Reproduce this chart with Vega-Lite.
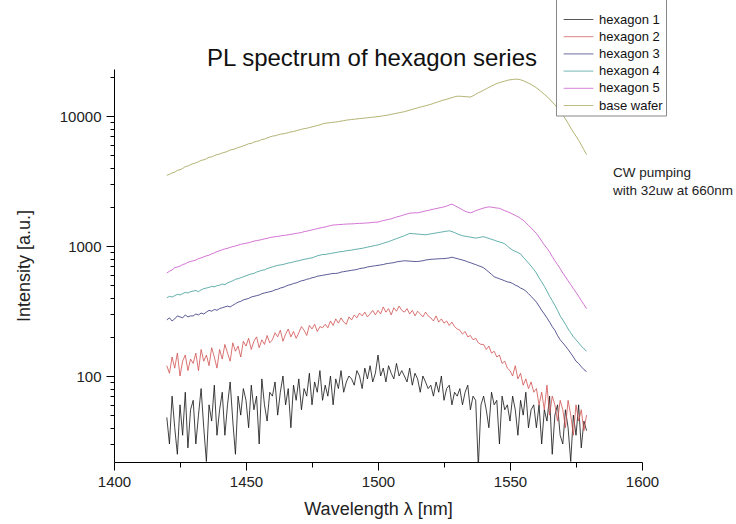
{
"$schema": "https://vega.github.io/schema/vega-lite/v6.json",
"width": 528, "height": 393,
"autosize": {"type": "none"},
"padding": {"left": 114, "top": 69, "right": 94, "bottom": 62},
"background": "white",
"config": {"view": {"stroke": null}, "font": "Liberation Sans"},
"title": {"text": "PL spectrum of hexagon series", "fontSize": 24, "fontWeight": "normal", "font": "Liberation Sans", "color": "#111", "anchor": "middle", "frame": "group", "dx": -6, "offset": -77},
"layer": [
{
"data": {"values": [
{"x":1420,"h1":48,"h2":120,"h3":270,"h4":400,"h5":620,"bw":3500},
{"x":1421,"h1":30,"h2":105,"h3":280,"h4":410,"h5":640,"bw":3560},
{"x":1422,"h1":70,"h2":140,"h3":265,"h4":405,"h5":655,"bw":3650},
{"x":1423,"h1":40,"h2":115,"h3":275,"h4":415,"h5":680,"bw":3700},
{"x":1424,"h1":25,"h2":150,"h3":290,"h4":425,"h5":690,"bw":3820},
{"x":1425,"h1":60,"h2":100,"h3":285,"h4":420,"h5":700,"bw":3860},
{"x":1426,"h1":35,"h2":130,"h3":280,"h4":430,"h5":720,"bw":3950},
{"x":1427,"h1":75,"h2":145,"h3":295,"h4":440,"h5":730,"bw":4080},
{"x":1428,"h1":28,"h2":110,"h3":285,"h4":435,"h5":750,"bw":4120},
{"x":1429,"h1":55,"h2":135,"h3":290,"h4":445,"h5":760,"bw":4230},
{"x":1430,"h1":65,"h2":125,"h3":290,"h4":450,"h5":770,"bw":4300},
{"x":1431,"h1":30,"h2":150,"h3":300,"h4":455,"h5":780,"bw":4360},
{"x":1432,"h1":50,"h2":110,"h3":295,"h4":445,"h5":800,"bw":4450},
{"x":1433,"h1":80,"h2":160,"h3":305,"h4":460,"h5":810,"bw":4560},
{"x":1434,"h1":40,"h2":130,"h3":300,"h4":470,"h5":825,"bw":4600},
{"x":1435,"h1":22,"h2":145,"h3":310,"h4":475,"h5":840,"bw":4700},
{"x":1436,"h1":60,"h2":120,"h3":320,"h4":480,"h5":850,"bw":4820},
{"x":1437,"h1":45,"h2":165,"h3":315,"h4":490,"h5":870,"bw":4850},
{"x":1438,"h1":85,"h2":140,"h3":325,"h4":485,"h5":885,"bw":4960},
{"x":1439,"h1":35,"h2":115,"h3":320,"h4":495,"h5":905,"bw":5050},
{"x":1440,"h1":55,"h2":160,"h3":330,"h4":500,"h5":920,"bw":5100},
{"x":1441,"h1":75,"h2":135,"h3":335,"h4":510,"h5":935,"bw":5200},
{"x":1442,"h1":35,"h2":175,"h3":340,"h4":505,"h5":950,"bw":5260},
{"x":1443,"h1":60,"h2":150,"h3":345,"h4":520,"h5":960,"bw":5350},
{"x":1444,"h1":90,"h2":130,"h3":340,"h4":530,"h5":975,"bw":5480},
{"x":1445,"h1":45,"h2":180,"h3":350,"h4":540,"h5":990,"bw":5530},
{"x":1446,"h1":25,"h2":155,"h3":360,"h4":555,"h5":1000,"bw":5600},
{"x":1447,"h1":70,"h2":170,"h3":370,"h4":560,"h5":1015,"bw":5720},
{"x":1448,"h1":50,"h2":140,"h3":375,"h4":570,"h5":1030,"bw":5800},
{"x":1449,"h1":80,"h2":185,"h3":385,"h4":580,"h5":1040,"bw":5900},
{"x":1450,"h1":65,"h2":170,"h3":390,"h4":590,"h5":1050,"bw":6000},
{"x":1451,"h1":40,"h2":195,"h3":395,"h4":600,"h5":1060,"bw":6120},
{"x":1452,"h1":85,"h2":160,"h3":405,"h4":610,"h5":1075,"bw":6150},
{"x":1453,"h1":55,"h2":185,"h3":410,"h4":615,"h5":1090,"bw":6300},
{"x":1454,"h1":70,"h2":200,"h3":415,"h4":630,"h5":1100,"bw":6380},
{"x":1455,"h1":30,"h2":165,"h3":420,"h4":640,"h5":1110,"bw":6450},
{"x":1456,"h1":95,"h2":190,"h3":430,"h4":650,"h5":1120,"bw":6600},
{"x":1457,"h1":60,"h2":175,"h3":435,"h4":655,"h5":1135,"bw":6650},
{"x":1458,"h1":45,"h2":205,"h3":440,"h4":670,"h5":1145,"bw":6780},
{"x":1459,"h1":75,"h2":180,"h3":445,"h4":680,"h5":1160,"bw":6900},
{"x":1460,"h1":70,"h2":190,"h3":450,"h4":690,"h5":1170,"bw":7000},
{"x":1461,"h1":90,"h2":215,"h3":460,"h4":700,"h5":1180,"bw":7050},
{"x":1462,"h1":50,"h2":200,"h3":465,"h4":710,"h5":1185,"bw":7150},
{"x":1463,"h1":75,"h2":225,"h3":475,"h4":715,"h5":1195,"bw":7250},
{"x":1464,"h1":100,"h2":185,"h3":480,"h4":720,"h5":1205,"bw":7300},
{"x":1465,"h1":60,"h2":210,"h3":490,"h4":730,"h5":1210,"bw":7350},
{"x":1466,"h1":80,"h2":230,"h3":500,"h4":740,"h5":1220,"bw":7450},
{"x":1467,"h1":40,"h2":200,"h3":505,"h4":745,"h5":1230,"bw":7550},
{"x":1468,"h1":85,"h2":220,"h3":515,"h4":755,"h5":1240,"bw":7600},
{"x":1469,"h1":65,"h2":195,"h3":520,"h4":765,"h5":1250,"bw":7700},
{"x":1470,"h1":95,"h2":215,"h3":530,"h4":770,"h5":1260,"bw":7800},
{"x":1471,"h1":55,"h2":240,"h3":540,"h4":780,"h5":1270,"bw":7900},
{"x":1472,"h1":80,"h2":225,"h3":545,"h4":790,"h5":1290,"bw":8000},
{"x":1473,"h1":70,"h2":205,"h3":555,"h4":795,"h5":1300,"bw":8050},
{"x":1474,"h1":105,"h2":245,"h3":560,"h4":805,"h5":1315,"bw":8150},
{"x":1475,"h1":60,"h2":230,"h3":570,"h4":810,"h5":1330,"bw":8250},
{"x":1476,"h1":90,"h2":250,"h3":575,"h4":825,"h5":1345,"bw":8350},
{"x":1477,"h1":75,"h2":220,"h3":585,"h4":840,"h5":1360,"bw":8450},
{"x":1478,"h1":110,"h2":240,"h3":590,"h4":850,"h5":1375,"bw":8550},
{"x":1479,"h1":65,"h2":235,"h3":595,"h4":860,"h5":1390,"bw":8700},
{"x":1480,"h1":85,"h2":250,"h3":600,"h4":860,"h5":1400,"bw":8800},
{"x":1481,"h1":70,"h2":235,"h3":605,"h4":870,"h5":1420,"bw":8850},
{"x":1482,"h1":100,"h2":265,"h3":610,"h4":875,"h5":1435,"bw":8900},
{"x":1483,"h1":60,"h2":245,"h3":615,"h4":885,"h5":1450,"bw":8950},
{"x":1484,"h1":95,"h2":275,"h3":615,"h4":890,"h5":1455,"bw":9000},
{"x":1485,"h1":80,"h2":255,"h3":620,"h4":900,"h5":1460,"bw":9050},
{"x":1486,"h1":110,"h2":280,"h3":630,"h4":905,"h5":1465,"bw":9150},
{"x":1487,"h1":75,"h2":260,"h3":635,"h4":910,"h5":1470,"bw":9200},
{"x":1488,"h1":90,"h2":250,"h3":640,"h4":920,"h5":1475,"bw":9300},
{"x":1489,"h1":100,"h2":285,"h3":645,"h4":925,"h5":1478,"bw":9350},
{"x":1490,"h1":95,"h2":270,"h3":650,"h4":930,"h5":1480,"bw":9400},
{"x":1491,"h1":85,"h2":295,"h3":655,"h4":940,"h5":1485,"bw":9450},
{"x":1492,"h1":110,"h2":280,"h3":660,"h4":945,"h5":1490,"bw":9500},
{"x":1493,"h1":100,"h2":305,"h3":670,"h4":955,"h5":1495,"bw":9550},
{"x":1494,"h1":80,"h2":290,"h3":675,"h4":960,"h5":1495,"bw":9600},
{"x":1495,"h1":115,"h2":310,"h3":680,"h4":970,"h5":1500,"bw":9650},
{"x":1496,"h1":95,"h2":285,"h3":690,"h4":980,"h5":1505,"bw":9700},
{"x":1497,"h1":120,"h2":300,"h3":695,"h4":990,"h5":1510,"bw":9750},
{"x":1498,"h1":90,"h2":320,"h3":700,"h4":1000,"h5":1520,"bw":9800},
{"x":1499,"h1":105,"h2":295,"h3":705,"h4":1010,"h5":1525,"bw":9850},
{"x":1500,"h1":145,"h2":320,"h3":710,"h4":1020,"h5":1530,"bw":9900},
{"x":1501,"h1":100,"h2":300,"h3":715,"h4":1035,"h5":1550,"bw":9950},
{"x":1502,"h1":115,"h2":340,"h3":720,"h4":1050,"h5":1570,"bw":10050},
{"x":1503,"h1":90,"h2":310,"h3":730,"h4":1065,"h5":1585,"bw":10100},
{"x":1504,"h1":120,"h2":330,"h3":735,"h4":1080,"h5":1600,"bw":10200},
{"x":1505,"h1":105,"h2":295,"h3":740,"h4":1100,"h5":1620,"bw":10300},
{"x":1506,"h1":95,"h2":335,"h3":745,"h4":1120,"h5":1645,"bw":10400},
{"x":1507,"h1":125,"h2":315,"h3":755,"h4":1140,"h5":1670,"bw":10500},
{"x":1508,"h1":100,"h2":345,"h3":760,"h4":1160,"h5":1690,"bw":10600},
{"x":1509,"h1":110,"h2":320,"h3":765,"h4":1180,"h5":1715,"bw":10700},
{"x":1510,"h1":100,"h2":310,"h3":770,"h4":1200,"h5":1740,"bw":10800},
{"x":1511,"h1":90,"h2":330,"h3":768,"h4":1225,"h5":1765,"bw":10950},
{"x":1512,"h1":115,"h2":300,"h3":765,"h4":1250,"h5":1790,"bw":11100},
{"x":1513,"h1":85,"h2":320,"h3":762,"h4":1245,"h5":1795,"bw":11250},
{"x":1514,"h1":105,"h2":290,"h3":760,"h4":1240,"h5":1800,"bw":11400},
{"x":1515,"h1":95,"h2":315,"h3":760,"h4":1235,"h5":1800,"bw":11550},
{"x":1516,"h1":75,"h2":300,"h3":765,"h4":1230,"h5":1820,"bw":11700},
{"x":1517,"h1":100,"h2":285,"h3":770,"h4":1225,"h5":1840,"bw":11850},
{"x":1518,"h1":90,"h2":310,"h3":780,"h4":1220,"h5":1860,"bw":12000},
{"x":1519,"h1":80,"h2":290,"h3":785,"h4":1230,"h5":1880,"bw":12150},
{"x":1520,"h1":85,"h2":280,"h3":790,"h4":1240,"h5":1900,"bw":12300},
{"x":1521,"h1":70,"h2":265,"h3":792,"h4":1250,"h5":1920,"bw":12500},
{"x":1522,"h1":90,"h2":290,"h3":795,"h4":1260,"h5":1940,"bw":12700},
{"x":1523,"h1":75,"h2":260,"h3":797,"h4":1270,"h5":1960,"bw":12900},
{"x":1524,"h1":100,"h2":275,"h3":800,"h4":1280,"h5":1980,"bw":13100},
{"x":1525,"h1":65,"h2":255,"h3":800,"h4":1290,"h5":2000,"bw":13300},
{"x":1526,"h1":80,"h2":265,"h3":805,"h4":1300,"h5":2030,"bw":13450},
{"x":1527,"h1":85,"h2":245,"h3":810,"h4":1310,"h5":2070,"bw":13650},
{"x":1528,"h1":60,"h2":260,"h3":820,"h4":1290,"h5":2100,"bw":13850},
{"x":1529,"h1":75,"h2":240,"h3":810,"h4":1270,"h5":2050,"bw":14050},
{"x":1530,"h1":70,"h2":230,"h3":800,"h4":1240,"h5":2000,"bw":14200},
{"x":1531,"h1":80,"h2":225,"h3":790,"h4":1220,"h5":1950,"bw":14200},
{"x":1532,"h1":60,"h2":210,"h3":780,"h4":1200,"h5":1900,"bw":14150},
{"x":1533,"h1":75,"h2":220,"h3":770,"h4":1190,"h5":1850,"bw":14100},
{"x":1534,"h1":85,"h2":200,"h3":755,"h4":1180,"h5":1820,"bw":14050},
{"x":1535,"h1":55,"h2":205,"h3":745,"h4":1170,"h5":1800,"bw":14000},
{"x":1536,"h1":70,"h2":190,"h3":730,"h4":1160,"h5":1830,"bw":14300},
{"x":1537,"h1":65,"h2":195,"h3":720,"h4":1150,"h5":1870,"bw":14700},
{"x":1538,"h1":20,"h2":180,"h3":705,"h4":1160,"h5":1900,"bw":15100},
{"x":1539,"h1":60,"h2":175,"h3":695,"h4":1170,"h5":1930,"bw":15400},
{"x":1540,"h1":70,"h2":175,"h3":680,"h4":1180,"h5":1960,"bw":15800},
{"x":1541,"h1":55,"h2":160,"h3":655,"h4":1160,"h5":1980,"bw":16200},
{"x":1542,"h1":40,"h2":170,"h3":630,"h4":1145,"h5":2000,"bw":16600},
{"x":1543,"h1":75,"h2":150,"h3":605,"h4":1125,"h5":1990,"bw":17000},
{"x":1544,"h1":60,"h2":155,"h3":580,"h4":1110,"h5":1975,"bw":17400},
{"x":1545,"h1":65,"h2":140,"h3":570,"h4":1090,"h5":1960,"bw":17800},
{"x":1546,"h1":30,"h2":145,"h3":560,"h4":1075,"h5":1950,"bw":18050},
{"x":1547,"h1":70,"h2":125,"h3":550,"h4":1060,"h5":1910,"bw":18300},
{"x":1548,"h1":55,"h2":130,"h3":540,"h4":1040,"h5":1870,"bw":18550},
{"x":1549,"h1":60,"h2":115,"h3":530,"h4":1000,"h5":1840,"bw":18800},
{"x":1550,"h1":45,"h2":110,"h3":525,"h4":960,"h5":1800,"bw":19000},
{"x":1551,"h1":70,"h2":100,"h3":515,"h4":930,"h5":1760,"bw":19100},
{"x":1552,"h1":55,"h2":120,"h3":500,"h4":910,"h5":1720,"bw":19200},
{"x":1553,"h1":35,"h2":95,"h3":490,"h4":890,"h5":1680,"bw":19200},
{"x":1554,"h1":65,"h2":105,"h3":475,"h4":870,"h5":1630,"bw":19000},
{"x":1555,"h1":50,"h2":85,"h3":465,"h4":820,"h5":1580,"bw":18700},
{"x":1556,"h1":75,"h2":95,"h3":450,"h4":780,"h5":1510,"bw":18300},
{"x":1557,"h1":40,"h2":80,"h3":430,"h4":740,"h5":1440,"bw":17900},
{"x":1558,"h1":55,"h2":90,"h3":410,"h4":700,"h5":1380,"bw":17500},
{"x":1559,"h1":60,"h2":75,"h3":390,"h4":660,"h5":1310,"bw":17000},
{"x":1560,"h1":40,"h2":80,"h3":370,"h4":620,"h5":1250,"bw":16500},
{"x":1561,"h1":60,"h2":60,"h3":345,"h4":570,"h5":1170,"bw":15900},
{"x":1562,"h1":30,"h2":75,"h3":320,"h4":530,"h5":1090,"bw":15300},
{"x":1563,"h1":55,"h2":55,"h3":300,"h4":490,"h5":1020,"bw":14700},
{"x":1564,"h1":45,"h2":85,"h3":280,"h4":450,"h5":960,"bw":14100},
{"x":1565,"h1":70,"h2":50,"h3":260,"h4":410,"h5":900,"bw":13500},
{"x":1566,"h1":25,"h2":70,"h3":240,"h4":380,"h5":830,"bw":12800},
{"x":1567,"h1":50,"h2":60,"h3":225,"h4":350,"h5":770,"bw":12200},
{"x":1568,"h1":60,"h2":45,"h3":205,"h4":320,"h5":720,"bw":11500},
{"x":1569,"h1":35,"h2":65,"h3":190,"h4":290,"h5":670,"bw":10900},
{"x":1570,"h1":30,"h2":55,"h3":180,"h4":270,"h5":620,"bw":10200},
{"x":1571,"h1":55,"h2":40,"h3":170,"h4":250,"h5":580,"bw":9500},
{"x":1572,"h1":40,"h2":65,"h3":160,"h4":230,"h5":540,"bw":8800},
{"x":1573,"h1":22,"h2":50,"h3":150,"h4":215,"h5":505,"bw":8100},
{"x":1574,"h1":50,"h2":35,"h3":140,"h4":200,"h5":470,"bw":7500},
{"x":1575,"h1":35,"h2":60,"h3":130,"h4":190,"h5":440,"bw":7000},
{"x":1576,"h1":60,"h2":45,"h3":125,"h4":180,"h5":410,"bw":6500},
{"x":1577,"h1":28,"h2":55,"h3":118,"h4":170,"h5":380,"bw":6000},
{"x":1578,"h1":45,"h2":38,"h3":112,"h4":162,"h5":355,"bw":5500},
{"x":1579,"h1":38,"h2":50,"h3":108,"h4":155,"h5":330,"bw":5050}
]},
"transform": [{"fold": ["h1","h2","h3","h4","h5","bw"], "as": ["series","value"]}],
"mark": {"type": "line", "strokeWidth": 0.8, "clip": true},
"encoding": {
"x": {"field": "x", "type": "quantitative", "scale": {"domain": [1400, 1600], "nice": false},
"axis": {"values": [1400,1425,1450,1475,1500,1525,1550,1575,1600], "format": "d",
"labelExpr": "datum.value % 50 == 0 ? datum.label : ''",
"tickSize": {"condition": {"test": "datum.value % 50 == 0", "value": 8}, "value": 5},
"title": "Wavelength λ [nm]", "titleFontSize": 18, "titleFontWeight": "normal", "titleColor": "#222",
"labelFontSize": 15, "labelColor": "#222", "labelPadding": 4, "titlePadding": 11,
"domainColor": "#000", "tickColor": "#000", "grid": false, "labelFlush": false, "labelOverlap": false}},
"y": {"field": "value", "type": "quantitative", "scale": {"type": "log", "domain": [21.8, 23000], "nice": false},
"axis": {"values": [30,40,50,60,70,80,90,100,200,300,400,500,600,700,800,900,1000,2000,3000,4000,5000,6000,7000,8000,9000,10000,20000],
"labelExpr": "(datum.value == 100 || datum.value == 1000 || datum.value == 10000) ? format(datum.value, 'd') : ''",
"tickSize": {"condition": {"test": "datum.value == 100 || datum.value == 1000 || datum.value == 10000", "value": 8}, "value": 4},
"title": "Intensity [a.u.]", "titleFontSize": 18, "titleFontWeight": "normal", "titleColor": "#222",
"labelFontSize": 15, "labelColor": "#222", "labelPadding": 5, "titlePadding": 26,
"domainColor": "#000", "tickColor": "#000", "grid": false, "labelOverlap": false}},
"color": {"field": "series", "type": "nominal",
"scale": {"domain": ["h1","h2","h3","h4","h5","bw"], "range": ["#111111","#d05050","#30307a","#3a9a96","#c850c8","#a0a050"]},
"legend": {"orient": "none", "legendX": 442, "legendY": -74.5, "title": " ", "titleFontSize": 13, "titlePadding": 0,
"padding": 3, "strokeColor": "#888", "fillColor": "white", "symbolType": "M-1.75,0H1.75", "symbolSize": 289, "symbolStrokeWidth": 1, "symbolOpacity": 0.7, "symbolOffset": 10.5,
"labelFontSize": 13, "labelColor": "#111", "rowPadding": 1.2, "labelOffset": 11.5, "labelLimit": 200,
"labelExpr": "datum.label == 'h1' ? 'hexagon 1' : datum.label == 'h2' ? 'hexagon 2' : datum.label == 'h3' ? 'hexagon 3' : datum.label == 'h4' ? 'hexagon 4' : datum.label == 'h5' ? 'hexagon 5' : 'base wafer'"}}
}
},
{
"data": {"values": [
{"x": 1589, "y": 3400, "t": "CW pumping"},
{"x": 1589, "y": 2466, "t": "with 32uw at 660nm"}
]},
"mark": {"type": "text", "align": "left", "baseline": "alphabetic", "fontSize": 13.5, "color": "#222"},
"encoding": {
"x": {"field": "x", "type": "quantitative"},
"y": {"field": "y", "type": "quantitative"},
"text": {"field": "t"}
}
}
]
}
